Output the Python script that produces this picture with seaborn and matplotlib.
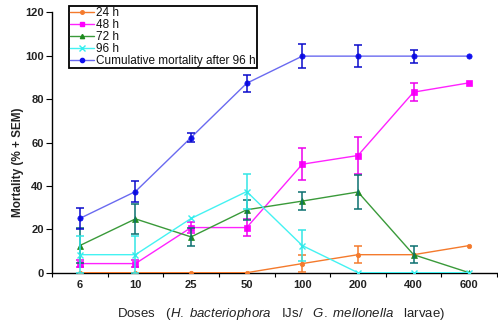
import numpy as np
import pandas as pd
import matplotlib
matplotlib.use("Agg")
import matplotlib.pyplot as plt
from matplotlib.lines import Line2D
import seaborn as sns

# ---- data ----
doses = ["6", "10", "25", "50", "100", "200", "400", "600"]
series_names = ["24 h", "48 h", "72 h", "96 h", "Cumulative mortality after 96 h"]
m24 = [0, 0, 0, 0, 4.2, 8.3, 8.3, 12.5]
m48 = [4.2, 4.2, 20.8, 20.8, 50, 54, 83.2, 87.5]
m72 = [12.5, 24.8, 16.5, 29, 33, 37.2, 8.3, 0]
m96 = [8.3, 8.3, 25, 37.4, 12.5, 0, 0, 0]
mcum = [25, 37.4, 62.3, 87.3, 99.8, 99.8, 99.8, 99.8]
e24 = [0, 0, 0, 0, 4, 4, 0, 0]
e48 = [1.5, 1.5, 2.5, 4, 7.5, 8.5, 4, 0]
e72 = [8, 7, 4, 4.5, 4, 8, 4, 0]
e96 = [8.5, 8.5, 0, 8, 7, 0, 0, 0]
ecum = [5, 5, 2, 4, 5.5, 5, 3, 0]
yticks = [0, 20, 40, 60, 80, 100, 120]

means = [m24, m48, m72, m96, mcum]
errs = [e24, e48, e72, e96, ecum]

# ---- styles ----
line_colors = ["#F47A2C", "#FF22FF", "#3A9A3A", "#44F2F2", "#6A6AF0"]
marker_colors = ["#F47A2C", "#FF00FF", "#1E8A1E", "#33EEEE", "#1010F0"]
err_colors = ["#F47A2C", "#EE00EE", "#0C7070", "#33E6E6", "#0A0ACC"]
markers = ["o", "s", "^", "x", "o"]
msizes = [3.2, 4.2, 3.8, 5, 3.8]

sns.set_theme(style="white")
plt.rcParams["font.family"] = ["Liberation Sans", "DejaVu Sans"]
plt.rcParams["mathtext.fontset"] = "custom"
plt.rcParams["mathtext.it"] = "Liberation Sans:italic"
plt.rcParams["mathtext.rm"] = "Liberation Sans"

rows = []
for name, vals in zip(series_names, means):
    for i, v in enumerate(vals):
        rows.append({"pos": i, "dose": doses[i], "value": v, "series": name})
df = pd.DataFrame(rows)

fig = plt.figure(figsize=(4.98, 3.24), dpi=100)
ax = fig.add_axes([52 / 498, 1 - 272.7 / 324, 445 / 498, 260.4 / 324])

for k, name in enumerate(series_names):
    sub = df[df["series"] == name]
    sns.lineplot(data=sub, x="pos", y="value", ax=ax, color=line_colors[k],
                 marker=markers[k], markersize=msizes[k],
                 markerfacecolor=marker_colors[k], markeredgecolor=marker_colors[k],
                 markeredgewidth=1.0 if markers[k] == "x" else 0.5,
                 linewidth=1.0, label=name, legend=False, zorder=3 + k)
    x = np.arange(len(doses))
    e = np.array(errs[k], dtype=float)
    mask = e > 0
    ax.errorbar(x[mask], np.array(means[k])[mask], yerr=e[mask], fmt="none",
                ecolor=err_colors[k], elinewidth=1.1, capsize=3, capthick=1.1,
                zorder=3 + k)

ax.set_xlim(-0.5, 7.45)
ax.set_ylim(0, 120)
ax.set_xticks(range(len(doses)))
ax.set_xticklabels(doses)
ax.set_xticks(np.arange(-0.5, 8, 1.0), minor=True)
ax.set_yticks(yticks)
ax.tick_params(axis="x", which="major", length=0, pad=5, labelsize=8)
ax.tick_params(axis="x", which="minor", length=3, width=0.8, direction="out",
               color="black", bottom=True)
ax.tick_params(axis="y", which="major", length=4, width=0.8, direction="out",
               color="black", left=True, labelsize=8, pad=2)
for lab in ax.get_xticklabels() + ax.get_yticklabels():
    lab.set_fontweight("bold")
    lab.set_color("#222222")

for s in ["top", "right"]:
    ax.spines[s].set_visible(False)
for s in ["left", "bottom"]:
    ax.spines[s].set_color("black")
    ax.spines[s].set_linewidth(1.0)
ax.grid(False)

ax.set_ylabel("Mortality (% + SEM)", fontsize=8.5, fontweight="bold", color="#222222")
ax.yaxis.set_label_coords(-0.062, 0.425)
ax.set_xlabel(r"Doses   ($\mathit{H.\ bacteriophora}$   IJs/   $\mathit{G.\ mellonella}$   larvae)",
              fontsize=9.5, color="#222222")
ax.xaxis.set_label_coords(0.515, -0.128)

handles = []
for k, name in enumerate(series_names):
    handles.append(Line2D([0], [0], color=line_colors[k], marker=markers[k],
                          markersize=msizes[k] * 0.8, markerfacecolor=marker_colors[k],
                          markeredgecolor=marker_colors[k], linewidth=1.0))
leg = ax.legend(handles, series_names, loc="upper left",
                bbox_to_anchor=(0.038, 1.024), fontsize=8.5, frameon=True,
                fancybox=False, edgecolor="black", framealpha=1,
                labelspacing=0.0, handlelength=2.0, handletextpad=0.2,
                borderpad=0.1, borderaxespad=0)
leg.get_frame().set_linewidth(1.3)
for t in leg.get_texts():
    t.set_color("#111111")

fig.savefig("out.png", dpi=100)
